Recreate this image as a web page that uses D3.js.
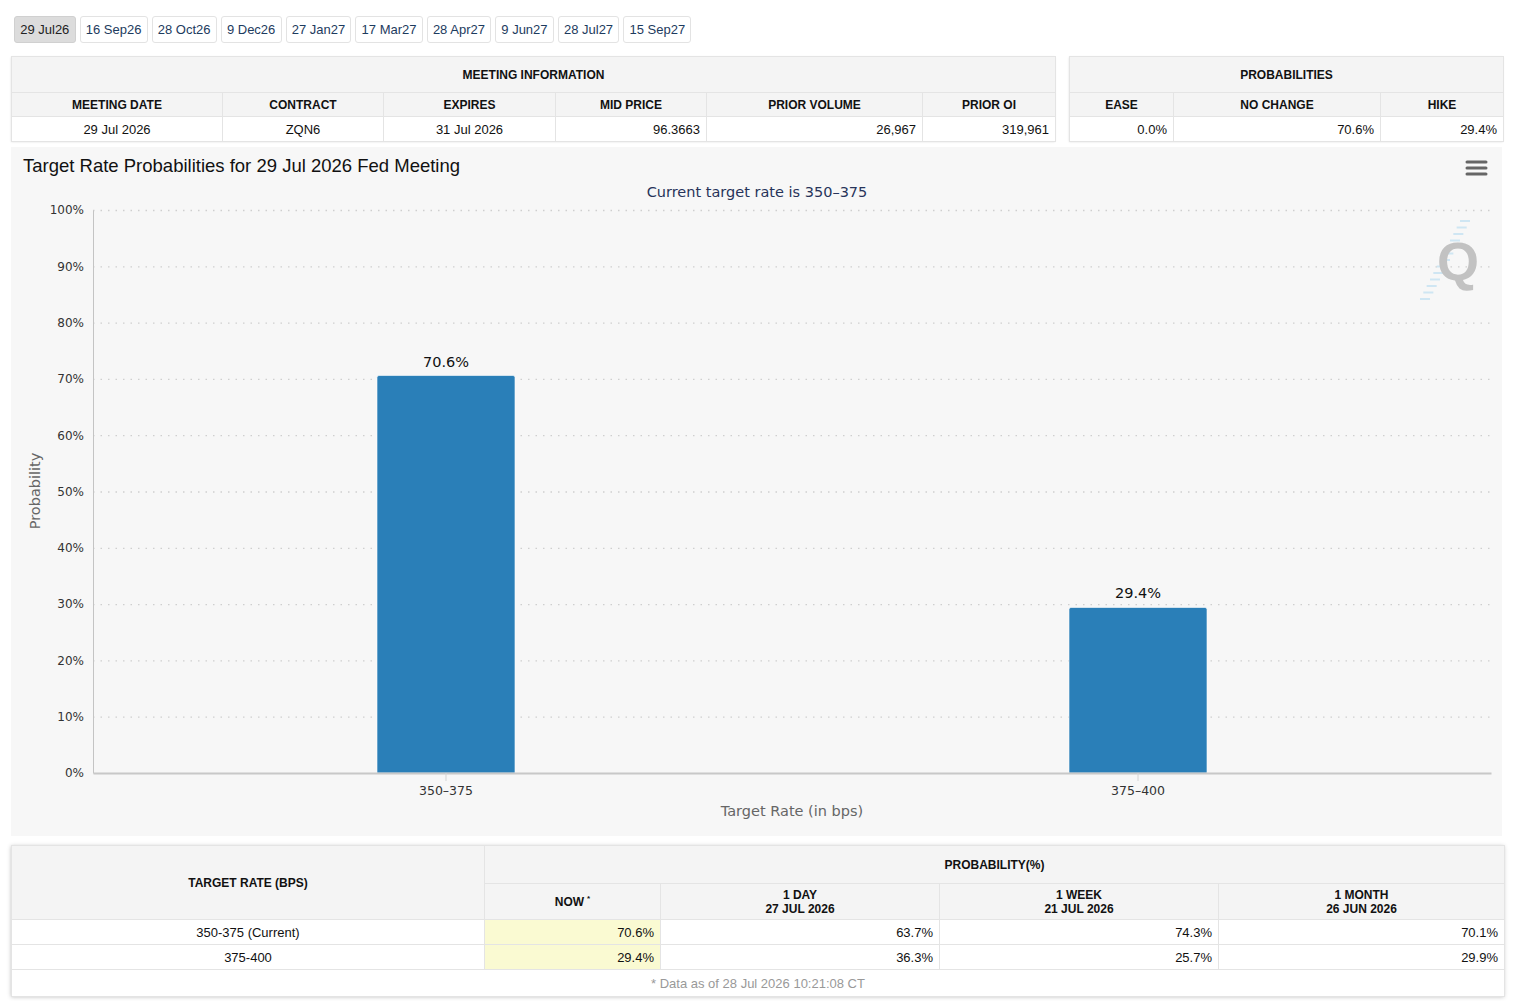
<!DOCTYPE html>
<html>
<head>
<meta charset="utf-8">
<script src="https://cdn.jsdelivr.net/npm/d3@7/dist/d3.min.js"></script>
<style>
  html, body { margin:0; padding:0; background:#fff; width:1536px; height:1001px; overflow:hidden; }
  body { font-family: "Liberation Sans", Arial, sans-serif; position:relative; }
  .tabs { position:absolute; left:14px; top:16px; height:27px; display:flex; }
  .tab { height:25px; line-height:25px; padding:0 5.2px; margin-right:4px; border:1px solid #e3e3e3; border-radius:3px;
         font-size:13px; color:#1d3b5e; background:#fff; white-space:nowrap; }
  .tab.active { background:#dcdcdc; color:#222; border-color:#d0d0d0; }
  table { border-collapse:collapse; position:absolute; table-layout:fixed; }
  td, th { border:1px solid #e4e4e4; padding:0 6px; font-size:13px; color:#111; white-space:nowrap; overflow:hidden; }
  th { font-size:12px; font-weight:bold; background:#f4f4f4; text-align:center; color:#111; }
  td.num { text-align:right; }
  td.ctr { text-align:center; }
  td { background:#fff; }
  td.now { background:#fafad2; }
  td.foot { text-align:center; color:#999; font-size:13px; }
  .box { position:absolute; box-shadow:0 1px 2px rgba(0,0,0,0.12); }
</style>
</head>
<body>
<div class="tabs" id="tabs"></div>
<div id="tables"></div>
<svg id="chart" width="1491" height="689" style="position:absolute;left:11px;top:147px;"></svg>
<script>
// ---------- data ----------
const meetingTabs = ["29 Jul26","16 Sep26","28 Oct26","9 Dec26","27 Jan27","17 Mar27","28 Apr27","9 Jun27","28 Jul27","15 Sep27"];
const activeTab = "29 Jul26";

const meetingHeaders = ["MEETING DATE","CONTRACT","EXPIRES","MID PRICE","PRIOR VOLUME","PRIOR OI"];
const meetingValues  = ["29 Jul 2026","ZQN6","31 Jul 2026","96.3663","26,967","319,961"];

const probHeaders = ["EASE","NO CHANGE","HIKE"];
const probValues  = ["0.0%","70.6%","29.4%"];

const categories = ["350–375","375–400"];
const probabilities = [70.6, 29.4];
const yTicks = [0,10,20,30,40,50,60,70,80,90,100];

const histRates = ["350-375 (Current)","375-400"];
const histNow   = ["70.6%","29.4%"];
const hist1Day  = ["63.7%","36.3%"];
const hist1Week = ["74.3%","25.7%"];
const hist1Month= ["70.1%","29.9%"];
const histHeaders = [["NOW","*"],["1 DAY","27 JUL 2026"],["1 WEEK","21 JUL 2026"],["1 MONTH","26 JUN 2026"]];

// ---------- tabs ----------
d3.select("#tabs").selectAll("div").data(meetingTabs).join("div")
  .attr("class", d => "tab" + (d === activeTab ? " active" : ""))
  .text(d => d);

// ---------- meeting info table ----------
const tables = d3.select("#tables");
function mkTable(left, top, widths, title, headers, values, rowH) {
  tables.append("div").attr("class","box")
    .style("left", left+"px").style("top", top+"px")
    .style("width", d3.sum(widths)+"px").style("height", d3.sum(rowH)+"px");
  const t = tables.append("table").style("left", left+"px").style("top", top+"px")
    .style("width", d3.sum(widths)+"px");
  const cg = t.append("colgroup");
  widths.forEach(w => cg.append("col").style("width", w+"px"));
  t.append("tr").style("height", rowH[0]+"px").append("th").attr("colspan", widths.length).text(title);
  t.append("tr").style("height", rowH[1]+"px").selectAll("th").data(headers).join("th").text(d=>d);
  return t;
}
const mt = mkTable(11, 56, [211,161,172,151,216,133], "MEETING INFORMATION", meetingHeaders, meetingValues, [36,24,25]);
mt.append("tr").style("height","25px").selectAll("td").data(meetingValues).join("td")
  .attr("class", (d,i) => i < 3 ? "ctr" : "num").text(d=>d);

const pt = mkTable(1069, 56, [104,207,123], "PROBABILITIES", probHeaders, probValues, [36,24,25]);
pt.append("tr").style("height","25px").selectAll("td").data(probValues).join("td")
  .attr("class","num").text(d=>d);

// ---------- history table ----------
{
  const widths = [473,176,279,279,286];
  const left = 11, top = 845;
  tables.append("div").attr("class","box").style("left",left+"px").style("top",top+"px")
    .style("width", d3.sum(widths)+"px").style("height","151px")
    .style("box-shadow","0 1px 4px rgba(0,0,0,0.25)");
  const t = tables.append("table").style("left",left+"px").style("top",top+"px").style("width", d3.sum(widths)+"px");
  const cg = t.append("colgroup");
  widths.forEach(w => cg.append("col").style("width", w+"px"));
  const r1 = t.append("tr").style("height","38px");
  r1.append("th").attr("rowspan",2).text("TARGET RATE (BPS)");
  r1.append("th").attr("colspan",4).text("PROBABILITY(%)");
  const r2 = t.append("tr").style("height","36px");
  r2.selectAll("th").data(histHeaders).join("th").each(function(d){
    const s = d3.select(this);
    if (d[1] === "*") { s.text(d[0]); s.append("sup").style("font-size","8px").style("margin-left","3px").text("*"); }
    else { s.html(null); s.append("div").text(d[0]); s.append("div").text(d[1]); }
  });
  histRates.forEach((r,i) => {
    const tr = t.append("tr").style("height","25px");
    tr.append("td").attr("class","ctr").text(r);
    tr.append("td").attr("class","num now").text(histNow[i]);
    tr.append("td").attr("class","num").text(hist1Day[i]);
    tr.append("td").attr("class","num").text(hist1Week[i]);
    tr.append("td").attr("class","num").text(hist1Month[i]);
  });
  t.append("tr").style("height","27px").append("td").attr("colspan",5).attr("class","foot")
    .text("* Data as of 28 Jul 2026 10:21:08 CT");
}

// ---------- chart ----------
const svg = d3.select("#chart");
const W = 1491, H = 689;
const plot = {l:82, r:1480, t:63, b:626};
const chartFont = "'DejaVu Sans', 'Open Sans', sans-serif";

svg.append("rect").attr("width",W).attr("height",H).attr("fill","#f7f7f7");

svg.append("text").attr("x",12).attr("y",25).attr("font-family","'Liberation Sans', Arial, sans-serif")
  .attr("font-size",18.5).attr("fill","#111").text("Target Rate Probabilities for 29 Jul 2026 Fed Meeting");

svg.append("text").attr("x",746).attr("y",50).attr("text-anchor","middle").attr("font-family",chartFont)
  .attr("font-size",14.5).attr("fill","#27345a").text("Current target rate is " + categories[0]);

// hamburger
[0,6,12].forEach(dy => svg.append("line").attr("x1",1456).attr("x2",1475).attr("y1",15+dy).attr("y2",15+dy)
  .attr("stroke","#666").attr("stroke-width",3).attr("stroke-linecap","round"));

const y = d3.scaleLinear().domain([0,100]).range([plot.b, plot.t]);
const x = d3.scaleBand().domain(categories).range([plot.l, plot.r]).paddingInner(0.8006).paddingOuter(0.4104);

// grid
svg.append("g").selectAll("line").data(yTicks.filter(d=>d>0)).join("line")
  .attr("x1",plot.l).attr("x2",plot.r).attr("y1",d=>y(d)+0.5).attr("y2",d=>y(d)+0.5)
  .attr("stroke","#cfcfcf").attr("stroke-width",1.3).attr("stroke-dasharray","1.5,6");

// watermark Q
const wm = svg.append("g");
d3.range(0,13).forEach(i => {
  const t = i/12;
  const cx = 1414 + t*40, cy = 152 - t*78;
  wm.append("line").attr("x1",cx-5).attr("x2",cx+5).attr("y1",cy).attr("y2",cy)
    .attr("stroke","#cfe6f3").attr("stroke-width",2);
});
wm.append("text").attr("x",1447).attr("y",133).attr("text-anchor","middle").attr("font-family","'Liberation Sans', Arial")
  .attr("font-weight","bold").attr("font-size",54).attr("fill","#c2c2c2").text("Q");

// y axis
const yAxis = d3.axisLeft(y).tickValues(yTicks).tickFormat(d => d + "%").tickSize(0).tickPadding(9);
const ya = svg.append("g").attr("transform",`translate(${plot.l},0)`).call(yAxis);
ya.select(".domain").attr("stroke","#c4c4c4");
ya.selectAll("text").attr("font-family",chartFont).attr("font-size",12).attr("fill","#333");

// bars
svg.append("g").selectAll("path").data(probabilities).join("path")
  .attr("d",(d,i) => {
    const x0 = x(categories[i]), w = x.bandwidth(), y0 = y(d), y1 = y(0), r = 2;
    return `M${x0},${y1}V${y0+r}Q${x0},${y0} ${x0+r},${y0}H${x0+w-r}Q${x0+w},${y0} ${x0+w},${y0+r}V${y1}Z`;
  })
  .attr("fill","#2a7fb8").attr("stroke","#ffffff").attr("stroke-opacity",0.6).attr("stroke-width",1);

// labels
svg.append("g").selectAll("text").data(probabilities).join("text")
  .attr("x",(d,i)=>x(categories[i]) + x.bandwidth()/2).attr("y",d=>y(d)-9)
  .attr("text-anchor","middle").attr("font-family",chartFont).attr("font-size",14.5).attr("fill","#111")
  .text(d => d.toFixed(1) + "%");

// x axis
const xa = svg.append("g").attr("transform",`translate(0,${plot.b})`)
  .call(d3.axisBottom(x).tickSize(8).tickPadding(5).tickSizeOuter(0));
xa.select(".domain").attr("stroke","#c8c8c8").attr("stroke-width",2);
xa.selectAll(".tick line").attr("stroke","#d4d4d4");
xa.selectAll("text").attr("font-family",chartFont).attr("font-size",12.5).attr("fill","#333");

svg.append("text").attr("x",781).attr("y",669).attr("text-anchor","middle").attr("font-family",chartFont)
  .attr("font-size",14.5).attr("fill","#666").text("Target Rate (in bps)");
svg.append("text").attr("transform",`translate(29,344) rotate(-90)`).attr("text-anchor","middle")
  .attr("font-family",chartFont).attr("font-size",14.5).attr("fill","#666").text("Probability");
</script>
</body>
</html>
